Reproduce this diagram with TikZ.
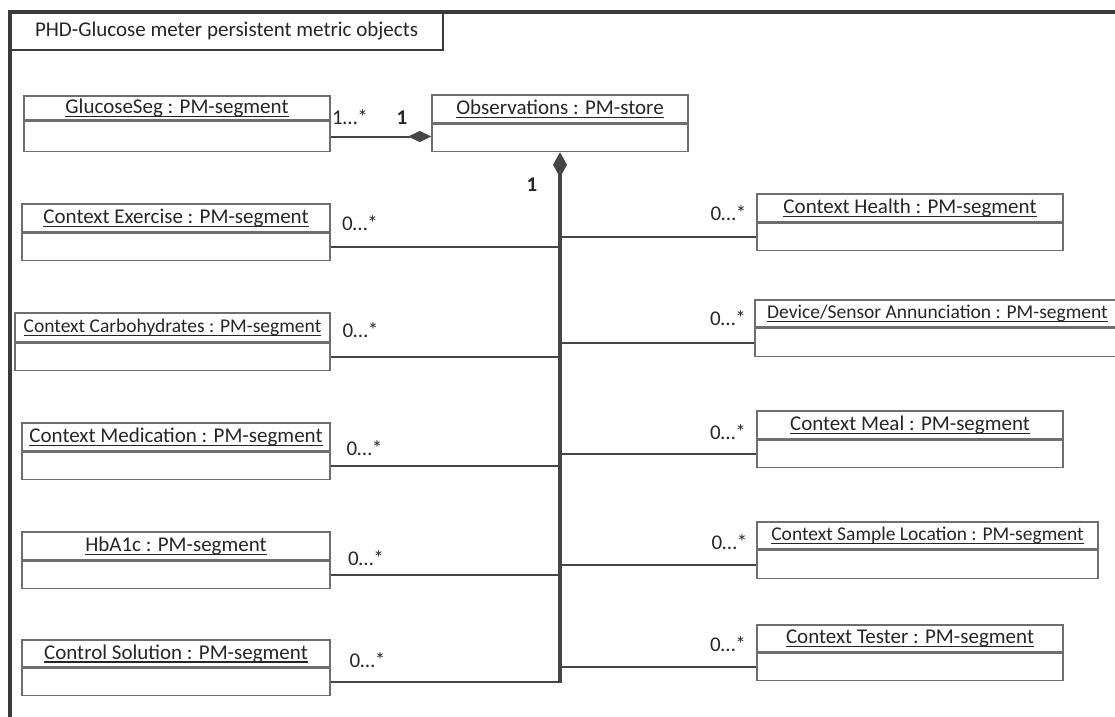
\documentclass[tikz,border=0pt]{standalone}
\usepackage{fontspec}
\setmainfont{Carlito}
\usetikzlibrary{arrows.meta}
\definecolor{boxgray}{HTML}{6E6E6E}
\definecolor{linegray}{HTML}{454545}
\definecolor{framegray}{HTML}{3A3A3A}
\definecolor{textgray}{HTML}{262626}
% underlined object name
\newcommand{\objname}[1]{\setbox0\hbox{#1}\rlap{\rule[-3.6pt]{\wd0}{1.2pt}}\box0}

\begin{document}
\begin{tikzpicture}
[x=1pt,y=-1pt,
font=\fontsize{21}{25}\selectfont,
every node/.style={text=textgray},
objhead/.style={draw=boxgray, line width=1.5pt, inner sep=0pt, minimum height=28pt},
objbody/.style={draw=boxgray, line width=1.5pt, inner sep=0pt, minimum height=27pt, anchor=north},
smalltxt/.style={font=\fontsize{19.5}{23}\selectfont},
assoc/.style={draw=linegray, line width=2pt},
trunk/.style={draw=linegray, line width=3.5pt},
mult/.style={inner sep=0pt},
multb/.style={inner sep=0pt, font=\fontsize{21}{25}\selectfont\bfseries}]
  \useasboundingbox (0,0) rectangle (1115,716);
  % package frame
  \draw[framegray, line width=4pt] (10,730) -- (10,12) -- (1130,12);
  \node[draw=framegray, line width=2.7pt, minimum width=433pt, minimum height=38pt, inner sep=0pt] (title) at (226.5,31) {PHD-Glucose meter persistent metric objects};
  % store and segments
  \node[objhead, minimum width=306pt, minimum height=24pt] (glucH) at (177,108) {\objname{GlucoseSeg : PM-segment}};
  \node[objbody, minimum width=306pt, minimum height=30pt] (glucB) at (glucH.south) {};
  \node[objhead, minimum width=256pt] (obsH) at (560,109) {\objname{Observations : PM-store}};
  \node[objbody, minimum width=256pt] (obsB) at (obsH.south) {};
  % left column
  \node[objhead, minimum width=308pt] (exerH) at (176,218) {\objname{Context Exercise : PM-segment}};
  \node[objbody, minimum width=308pt] (exerB) at (exerH.south) {};
  \node[objhead, smalltxt, minimum width=315pt, minimum height=29pt] (carbH) at (172.5,327.5) {\objname{Context Carbohydrates : PM-segment}};
  \node[objbody, minimum width=315pt] (carbB) at (carbH.south) {};
  \node[objhead, minimum width=308pt] (mediH) at (176,437) {\objname{Context Medication : PM-segment}};
  \node[objbody, minimum width=308pt] (mediB) at (mediH.south) {};
  \node[objhead, minimum width=308pt] (hbaH) at (176,546) {\objname{HbA1c : PM-segment}};
  \node[objbody, minimum width=308pt] (hbaB) at (hbaH.south) {};
  \node[objhead, minimum width=308pt, minimum height=27pt] (ctrlH) at (176,653.5) {\objname{Control Solution : PM-segment}};
  \node[objbody, minimum width=308pt] (ctrlB) at (ctrlH.south) {};
  % right column
  \node[objhead, minimum width=306pt] (healthH) at (910,208) {\objname{Context Health : PM-segment}};
  \node[objbody, minimum width=306pt] (healthB) at (healthH.south) {};
  \node[objhead, smalltxt, minimum width=365pt, minimum height=27pt] (devH) at (937.5,313.5) {\objname{Device/Sensor Annunciation : PM-segment}};
  \node[objbody, minimum width=365pt, minimum height=28pt] (devB) at (devH.south) {};
  \node[objhead, minimum width=306pt] (mealH) at (910,425) {\objname{Context Meal : PM-segment}};
  \node[objbody, minimum width=306pt] (mealB) at (mealH.south) {};
  \node[objhead, smalltxt, minimum width=341pt, minimum height=27pt] (sampH) at (927.5,535.5) {\objname{Context Sample Location : PM-segment}};
  \node[objbody, minimum width=341pt, minimum height=28pt] (sampB) at (sampH.south) {};
  \node[objhead, minimum width=306pt, minimum height=27pt] (testH) at (910,638.5) {\objname{Context Tester : PM-segment}};
  \node[objbody, minimum width=306pt] (testB) at (testH.south) {};
  % composition lines
  \coordinate (trunkend) at (obsB.south |- ctrlB.east);
  \draw[assoc, -{Diamond[length=23pt,width=11pt,line width=0.5pt]}] (glucB.east) -- (glucB.east -| obsB.west);
  \draw[trunk, {Diamond[length=25pt,width=14pt,line width=0.5pt]}-, shorten >=-1pt] (obsB.south) -- (trunkend);
  \draw[assoc] (exerB.east) -- (exerB.east -| trunkend);
  \draw[assoc] (carbB.east) -- (carbB.east -| trunkend);
  \draw[assoc] (mediB.east) -- (mediB.east -| trunkend);
  \draw[assoc] (hbaB.east) -- (hbaB.east -| trunkend);
  \draw[assoc] (ctrlB.east) -- (trunkend);
  \draw[assoc] (healthB.west) -- (healthB.west -| trunkend);
  \draw[assoc] (devB.west) -- (devB.west -| trunkend);
  \draw[assoc] (mealB.west) -- (mealB.west -| trunkend);
  \draw[assoc] (sampB.west) -- (sampB.west -| trunkend);
  \draw[assoc] (testB.west) -- (testB.west -| trunkend);
  % multiplicities
  \node[mult] (mgluc) at (350,117.5) {1…*};
  \node[multb] (mobs) at (402,118) {1};
  \node[multb] (mtrunk) at (532,185) {1};
  \node[mult] (mexer) at (360,223) {0…*};
  \node[mult] (mcarb) at (360.5,330.5) {0…*};
  \node[mult] (mmedi) at (364.5,448) {0…*};
  \node[mult] (mhba) at (366,558.5) {0…*};
  \node[mult] (mctrl) at (367.5,660.5) {0…*};
  \node[mult] (mhealth) at (728.5,213) {0…*};
  \node[mult] (mdev) at (728,318) {0…*};
  \node[mult] (mmeal) at (728,432) {0…*};
  \node[mult] (msamp) at (729.5,542) {0…*};
  \node[mult] (mtest) at (728,644) {0…*};
\end{tikzpicture}
\end{document}
